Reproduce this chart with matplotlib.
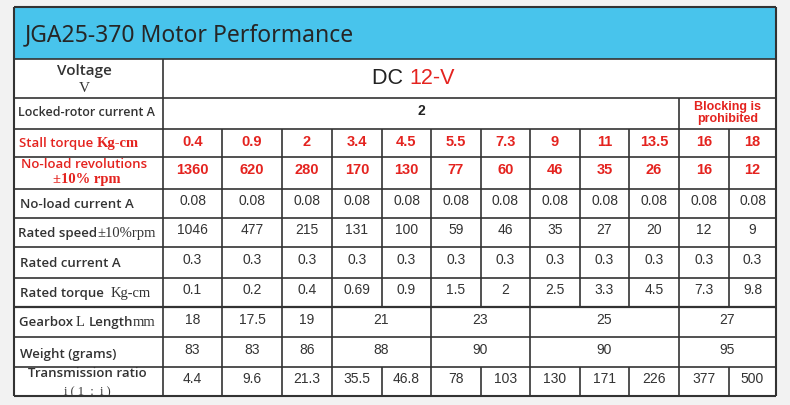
import matplotlib
matplotlib.use("Agg")
from matplotlib import pyplot as plt
from matplotlib.patches import Rectangle
from matplotlib.transforms import Bbox, TransformedBbox

# ---- table content ----
title = "JGA25-370 Motor Performance"
voltage = "12-V"
locked_rotor = "2"
blocked_note = "Blocking is\nprohibited"
stall_torque = ["0.4", "0.9", "2", "3.4", "4.5", "5.5", "7.3", "9", "11", "13.5", "16", "18"]
no_load_rpm = ["1360", "620", "280", "170", "130", "77", "60", "46", "35", "26", "16", "12"]
no_load_current = ["0.08", "0.08", "0.08", "0.08", "0.08", "0.08", "0.08", "0.08", "0.08", "0.08", "0.08", "0.08"]
rated_speed = ["1046", "477", "215", "131", "100", "59", "46", "35", "27", "20", "12", "9"]
rated_current = ["0.3", "0.3", "0.3", "0.3", "0.3", "0.3", "0.3", "0.3", "0.3", "0.3", "0.3", "0.3"]
rated_torque = ["0.1", "0.2", "0.4", "0.69", "0.9", "1.5", "2", "2.5", "3.3", "4.5", "7.3", "9.8"]
gearbox_len = ["18", "17.5", "19", "21", "23", "25", "27"]
weight = ["83", "83", "86", "88", "90", "90", "95"]
group_span = [1, 1, 1, 2, 2, 3, 2]   # columns covered by each gearbox / weight cell
ratio = ["4.4", "9.6", "21.3", "35.5", "46.8", "78", "103", "130", "171", "226", "377", "500"]

# ---- layout (pixels) ----
col_x = [163, 222, 282, 332, 382, 431, 481, 530, 580, 629, 679, 729, 776]
row_y = [8, 60, 99, 130, 158, 190, 219, 248, 279, 308, 338, 368, 397]
left_x = 14

RED = "#e4231f"
BLUE = "#48c4ec"
LINE = "#333333"
SANS = ["Liberation Sans", "DejaVu Sans"]
LBL = ["Open Sans", "DejaVu Sans"]
SERIF = ["Liberation Serif", "DejaVu Serif"]

fig = plt.figure(figsize=(7.9, 4.06), dpi=100)
fig.patch.set_facecolor("#f2f2f2")
ax = fig.add_axes([0, 0, 1, 1])
ax.set_xlim(0, 790)
ax.set_ylim(406, 0)
ax.axis("off")

# backgrounds
ax.add_patch(Rectangle((left_x, row_y[1]), col_x[-1] - left_x, row_y[-1] - row_y[1],
                       facecolor="white", edgecolor="none"))
ax.add_patch(Rectangle((left_x, row_y[0]), col_x[-1] - left_x, row_y[1] - row_y[0],
                       facecolor=BLUE, edgecolor="none"))

def hline(y, x0=left_x, x1=col_x[-1], lw=1.2):
    ax.plot([x0, x1], [y, y], color=LINE, lw=lw, solid_capstyle="butt", zorder=3)

def vline(x, y0, y1, lw=1.2):
    ax.plot([x, x], [y0, y1], color=LINE, lw=lw, solid_capstyle="butt", zorder=3)

# outer frame and row lines
for y in row_y[1:-1]:
    hline(y)
hline(row_y[0], lw=1.5)
hline(row_y[-1], lw=1.5)
hline(row_y[9], lw=1.6)
vline(left_x, row_y[0], row_y[-1], lw=1.5)
vline(col_x[-1], row_y[0], row_y[-1], lw=1.5)
vline(col_x[0], row_y[1], row_y[-1])
# locked-rotor row divider
vline(col_x[10], row_y[2], row_y[3])
# full-grid rows
for x in col_x[1:-1]:
    vline(x, row_y[3], row_y[9])
    vline(x, row_y[11], row_y[12])
# merged rows (gearbox, weight)
edges = [0]
for s in group_span:
    edges.append(edges[-1] + s)
for e in edges[1:-1]:
    vline(col_x[e], row_y[9], row_y[11])

# title
ax.text(25, 35, title, fontsize=16.5, color="#262626", family=["Noto Sans", "DejaVu Sans"],
        va="center", ha="left")

renderer = fig.canvas.get_renderer()

def chain(x, y, parts, **kw):
    # parts: list of (text, family, color, weight, size)
    for txt, fam, col, wt, sz in parts:
        t = ax.text(x, y, txt, family=fam, color=col, fontweight=wt, fontsize=sz,
                    va="center", ha="left", **kw)
        bb = t.get_window_extent(renderer)
        x += bb.width

# voltage row
ax.text(84, 71, "Voltage", fontsize=11, family=LBL, color="#333333", ha="center", va="center",
        fontweight="semibold")
ax.text(84, 88, "V", fontsize=11, family=SERIF, color="#333333", ha="center", va="center")
chain(372, 78, [("DC ", SANS, "#222222", "normal", 15.5), (voltage, SANS, RED, "normal", 15.5)])

# locked rotor row
ax.text(18, 113, "Locked-rotor current A", fontsize=9, family=LBL, color="#333333",
        ha="left", va="center", fontweight="semibold")
ax.text((col_x[0] + col_x[10]) / 2, 111, locked_rotor, fontsize=10, family=SANS,
        fontweight="bold", ha="center", va="center", color="#222222")
ax.text((col_x[10] + col_x[12]) / 2, 113, blocked_note, fontsize=9, family=SANS,
        fontweight="bold", ha="center", va="center", color=RED, linespacing=1.0)

# left labels
LC = "#333333"
chain(19, 144, [("Stall torque ", LBL, RED, "semibold", 9.5), ("Kg-cm", SERIF, RED, "bold", 10.5)])
ax.text(84, 165, "No-load revolutions", fontsize=9.5, family=LBL, color=RED, ha="center",
        va="center", fontweight="semibold")
ax.text(87, 180, "±10% rpm", fontsize=10.5, family=SERIF, color=RED, ha="center", va="center",
        fontweight="bold")
ax.text(20, 205, "No-load current A", fontsize=9.5, family=LBL, color=LC, ha="left",
        va="center", fontweight="semibold")
chain(18, 234, [("Rated speed", LBL, LC, "semibold", 9.5), ("±10%rpm", SERIF, LC, "normal", 10.5)])
ax.text(20, 264, "Rated current A", fontsize=9.5, family=LBL, color=LC, ha="left",
        va="center", fontweight="semibold")
chain(20, 294, [("Rated torque  ", LBL, LC, "semibold", 9.5), ("Kg-cm", SERIF, LC, "normal", 10.5)])
chain(19, 323, [("Gearbox ", LBL, LC, "semibold", 9.5), ("L ", SERIF, LC, "normal", 10.5),
                ("Length", LBL, LC, "semibold", 9.5), ("mm", SERIF, LC, "normal", 10.5)])
ax.text(20, 355, "Weight (grams)", fontsize=9.5, family=LBL, color=LC, ha="left",
        va="center", fontweight="semibold")
ax.text(87, 374, "Transmission ratio", fontsize=9.5, family=LBL, color=LC, ha="center",
        va="center", fontweight="semibold")
# second line of the label is cut off by the bottom border, as in the source picture
t = ax.text(87, 392, "i ( 1  :  i )", fontsize=9, family=SERIF, color=LC, ha="center",
            va="center")
t.set_clip_box(TransformedBbox(Bbox([[left_x, row_y[11]], [col_x[0], row_y[12] - 1]]),
                               ax.transData))
t.set_clip_on(True)

# values
def fill_row(vals, r, dy=-3, color="#333333", weight="normal", size=10):
    yc = (row_y[r] + row_y[r + 1]) / 2 + dy
    for i, v in enumerate(vals):
        xc = (col_x[i] + col_x[i + 1]) / 2
        ax.text(xc, yc, v, ha="center", va="center", family=SANS, color=color,
                fontweight=weight, fontsize=size)

fill_row(stall_torque, 3, dy=-2, color=RED, weight="bold", size=10.5)
fill_row(no_load_rpm, 4, dy=-4, color=RED, weight="bold", size=10.5)
fill_row(no_load_current, 5)
fill_row(rated_speed, 6)
fill_row(rated_current, 7)
fill_row(rated_torque, 8)
fill_row(ratio, 11)

def fill_merged(vals, r, dy=-3):
    yc = (row_y[r] + row_y[r + 1]) / 2 + dy
    for k, v in enumerate(vals):
        xc = (col_x[edges[k]] + col_x[edges[k + 1]]) / 2
        ax.text(xc, yc, v, ha="center", va="center", family=SANS, color="#333333", fontsize=10)

fill_merged(gearbox_len, 9)
fill_merged(weight, 10)

fig.savefig("out.png", dpi=100, facecolor=fig.get_facecolor())
